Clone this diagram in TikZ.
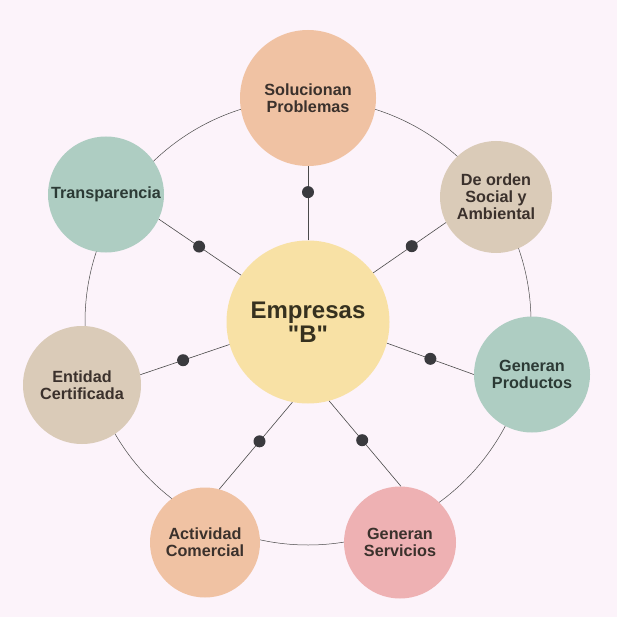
\documentclass[tikz,border=0pt]{standalone}
\usepackage{fontspec}
\setmainfont{Liberation Sans}[Ligatures=TeXOff]
\usetikzlibrary{calc}
\definecolor{bgc}{HTML}{FCF3FA}
\definecolor{peach}{HTML}{F0C2A3}
\definecolor{sage}{HTML}{AECDC2}
\definecolor{beige}{HTML}{DACBB8}
\definecolor{pinkc}{HTML}{EEB1B3}
\definecolor{yell}{HTML}{F8E1A5}
\definecolor{txt}{HTML}{3B312C}
\definecolor{txtg}{HTML}{2C3A35}
\definecolor{ctxtc}{HTML}{36311F}
\definecolor{dotc}{HTML}{3A3A3E}
\definecolor{linec}{HTML}{4A4A4A}
\pgfdeclarelayer{back}
\pgfsetlayers{back,main}
\tikzset{
  bub/.style={circle, inner sep=0pt, minimum size=#1, align=center,
    font=\bfseries\fontsize{16.2}{17}\selectfont, text=txt},
  cbub/.style={circle, inner sep=0pt, minimum size=163pt, fill=yell, align=center,
    font=\bfseries\fontsize{24}{24}\selectfont, text=ctxtc},
  spoke/.style={draw=linec, line width=0.6pt},
  ringline/.style={draw=linec, line width=0.5pt},
  dotnode/.style={circle, fill=dotc, inner sep=0pt, minimum size=12pt},
}
\begin{document}
\begin{tikzpicture}[x=1pt,y=-1pt]
\useasboundingbox (0,0) rectangle (617,617);
% nodes
\node[cbub] (c) at (308,322) {Empresas\\"B"};
\node[bub=136pt, fill=peach] (s1) at (308,98) {Solucionan\\Problemas};
\node[bub=112pt, fill=beige] (s2) at (496,197) {De orden\\Social y\\Ambiental};
\node[bub=116pt, fill=sage, text=txtg] (s3) at (532,374.5) {Generan\\Productos};
\node[bub=112pt, fill=pinkc] (s4) at (400,542.5) {Generan\\Servicios};
\node[bub=110pt, fill=peach] (s5) at (205,542.5) {Actividad\\Comercial};
\node[bub=118pt, fill=beige] (s6) at (82,385) {Entidad\\Certificada};
\node[bub=116pt, fill=sage, text=txtg] (s7) at (106,194.5) {Transparencia};
% background layer: page and ring
\begin{pgfonlayer}{back}
\fill[bgc] (0,0) rectangle (617,617);
\draw[ringline] (c.center) circle[radius=223pt];
\end{pgfonlayer}
% spokes with dots
\draw[spoke] (c.90)  -- node[dotnode, pos=0.65] (d1) {} (s1.270);
\draw[spoke] (c.37)  -- node[dotnode, pos=0.53] (d2) {} (s2.207);
\draw[spoke] (c.-15) -- node[dotnode, pos=0.50] (d3) {} (s3.180);
\draw[spoke] (c.285) -- node[dotnode, pos=0.46] (d4) {} (s4.89);
\draw[spoke] (c.259) -- node[dotnode, pos=0.45] (d5) {} (s5.75);
\draw[spoke] (c.196) -- node[dotnode, pos=0.52] (d6) {} (s6.10);
\draw[spoke] (c.145) -- node[dotnode, pos=0.51] (d7) {} (s7.-25);
\end{tikzpicture}
\end{document}
